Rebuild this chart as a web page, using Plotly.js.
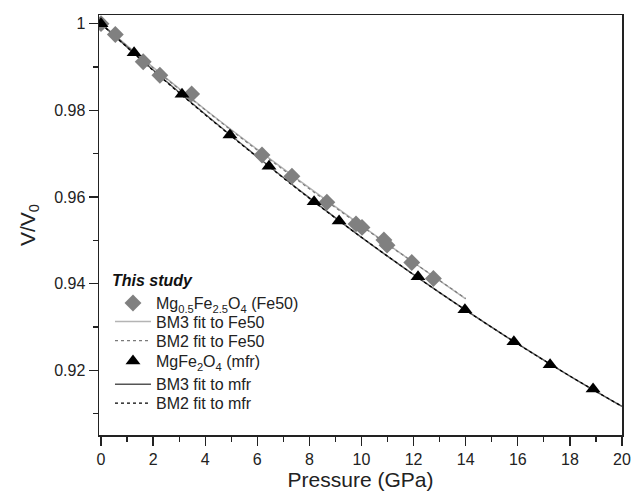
<!DOCTYPE html>
<html>
<head>
<meta charset="utf-8">
<script src="https://cdn.plot.ly/plotly-3.0.1.min.js"></script>
<style>html,body{margin:0;padding:0;background:#fff;}#chart{width:640px;height:499px;}</style>
</head>
<body>
<div id="chart"></div>
<script>
// Fe50 measured data (Mg0.5Fe2.5O4)
var fe50P = [0, 0.55, 1.62, 2.26, 3.48, 6.18, 7.33, 8.67, 9.79, 10.02, 10.86, 10.98, 11.93, 12.76];
var fe50V = [1.000, 0.9975, 0.9912, 0.9881, 0.9838, 0.9697, 0.9648, 0.9588, 0.9538, 0.9530, 0.9501, 0.9489, 0.9449, 0.9412];
// MgFe2O4 (mfr) measured data
var mfrP = [0, 1.27, 3.11, 4.95, 6.45, 8.18, 9.14, 12.17, 13.97, 15.85, 17.24, 18.89];
var mfrV = [1.000, 0.9933, 0.9837, 0.9743, 0.9671, 0.9589, 0.9545, 0.9416, 0.9340, 0.9266, 0.9213, 0.9157];
// fit curves
var fitFeP = [0, 2, 4, 6, 8, 10, 12, 14];
var bm3FeV = [1.000, 0.9899, 0.9802, 0.9710, 0.9621, 0.9534, 0.9449, 0.9365];
var bm2FeV = [1.000, 0.9898, 0.9801, 0.9708, 0.9619, 0.9533, 0.9449, 0.9366];
var fitMfrP = [0, 2, 4, 6, 8, 10, 12, 14, 16, 18, 20];
var bm3MfrV = [1.000, 0.9893, 0.9791, 0.9693, 0.9598, 0.9507, 0.9421, 0.9339, 0.9261, 0.9187, 0.9117];
var bm2MfrV = [1.000, 0.9892, 0.9790, 0.9692, 0.9597, 0.9507, 0.9421, 0.9339, 0.9261, 0.9187, 0.9117];
// legend labels
var legendTitle = '<b><i>This study</i></b>';
var names = ['Mg<sub>0.5</sub>Fe<sub>2.5</sub>O<sub>4</sub> (Fe50)', 'BM3 fit to Fe50', 'BM2 fit to Fe50',
             'MgFe<sub>2</sub>O<sub>4</sub> (mfr)', 'BM3 fit to mfr', 'BM2 fit to mfr'];

var traces = [
  {x: fitFeP, y: bm3FeV, mode: 'lines', line: {color: '#b4b4b4', width: 1.5, shape: 'spline'}, name: names[1], legend: 'legend2'},
  {x: fitFeP, y: bm2FeV, mode: 'lines', line: {color: '#7a7a7a', width: 1.2, dash: 'dot', shape: 'spline'}, name: names[2], legend: 'legend3'},
  {x: fitMfrP, y: bm3MfrV, mode: 'lines', line: {color: '#555555', width: 1.5, shape: 'spline'}, name: names[4], legend: 'legend5'},
  {x: fitMfrP, y: bm2MfrV, mode: 'lines', line: {color: '#000000', width: 1.3, dash: 'dot', shape: 'spline'}, name: names[5], legend: 'legend6'},
  {x: fe50P, y: fe50V, mode: 'markers', marker: {symbol: 'diamond', size: 13, color: '#808080'}, name: names[0], legend: 'legend'},
  {x: mfrP, y: mfrV, mode: 'markers', marker: {symbol: 'triangle-up', size: 13, color: '#000000'}, name: names[3], legend: 'legend4'}
];

var fam = 'Liberation Sans, Arial, sans-serif';
function leg(y, anchor, title) {
  var o = {
    x: 0.021, y: y, xanchor: 'left', yanchor: anchor,
    bgcolor: 'rgba(0,0,0,0)', borderwidth: 0,
    font: {family: fam, size: 16, color: '#222'},
    itemwidth: 36
  };
  if (title) o.title = {text: title, font: {family: fam, size: 16, color: '#111'}};
  return o;
}

var layout = {
  width: 640, height: 499,
  margin: {l: 99, r: 18, t: 15, b: 64},
  paper_bgcolor: '#fff', plot_bgcolor: '#fff',
  font: {family: fam, color: '#222', size: 16},
  showlegend: true,
  legend: leg(0.404, 'top', legendTitle),
  legend2: leg(0.2698, 'middle'),
  legend3: leg(0.2245, 'middle'),
  legend4: leg(0.1762, 'middle'),
  legend5: leg(0.1207, 'middle'),
  legend6: leg(0.0755, 'middle'),
  xaxis: {
    range: [-0.077, 20], tick0: 0, dtick: 2,
    ticks: 'outside', ticklen: 9, tickwidth: 1.3, tickcolor: '#222',
    minor: {dtick: 1, ticks: 'outside', ticklen: 5, tickwidth: 1.3, tickcolor: '#222'},
    showline: true, linecolor: '#222', linewidth: 1.5, mirror: true,
    showgrid: false, zeroline: false,
    tickfont: {size: 16},
    title: {text: 'Pressure (GPa)', font: {size: 21}, standoff: 4}
  },
  yaxis: {
    range: [0.9051, 1.002], tick0: 0.92, dtick: 0.02,
    ticks: 'outside', ticklen: 9, tickwidth: 1.3, tickcolor: '#222',
    minor: {dtick: 0.01, ticks: 'outside', ticklen: 5, tickwidth: 1.3, tickcolor: '#222'},
    showline: true, linecolor: '#222', linewidth: 1.5, mirror: true,
    showgrid: false, zeroline: false,
    tickfont: {size: 16},
    title: {text: 'V/V<sub>0</sub>', font: {size: 21}, standoff: 13}
  },
  yaxis2: {
    overlaying: 'y', side: 'right', range: [0.9051, 1.002],
    tick0: 0.92, dtick: 0.01, ticks: 'inside', ticklen: 9, tickwidth: 1.3, tickcolor: '#222',
    showticklabels: false, showgrid: false, zeroline: false, showline: false
  }
};

Plotly.newPlot('chart', traces, layout, {displayModeBar: false, staticPlot: true});
</script>
</body>
</html>
